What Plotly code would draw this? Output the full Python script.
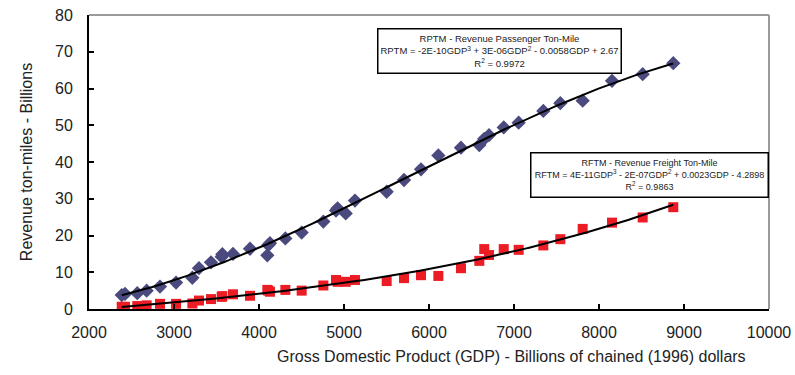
import numpy as np
import plotly.graph_objects as go

gdp = [2385, 2424, 2568, 2678, 2835, 3024, 3216, 3294, 3435, 3561, 3569, 3694, 3894,
       4098, 4110, 4129, 4310, 4502, 4757, 4906, 4925, 5020, 5129, 5502, 5706, 5906,
       6110, 6376, 6592, 6650, 6706, 6879, 7055, 7345, 7545, 7808, 8153, 8514, 8874]
rptm = [3.8, 4.1, 4.3, 5.0, 6.1, 7.2, 8.5, 11.1, 12.7, 14.2, 14.9, 15.0, 16.4,
        14.6, 17.4, 17.9, 19.2, 20.8, 23.8, 26.8, 27.4, 26.0, 29.5, 31.9, 35.1, 38.0,
        41.8, 43.9, 44.6, 46.3, 47.3, 49.4, 50.7, 53.9, 56.0, 56.7, 62.1, 63.9, 66.9]
rftm = [0.6, 0.6, 0.8, 1.0, 1.4, 1.4, 1.5, 2.3, 2.7, 3.3, 3.5, 4.0, 3.6,
        5.2, 5.0, 4.7, 5.2, 5.0, 6.4, 7.9, 7.4, 7.4, 7.9, 7.6, 8.4, 9.2,
        9.0, 11.1, 13.1, 16.3, 14.7, 16.3, 16.1, 17.3, 19.0, 21.8, 23.5, 24.9, 27.7]
x_ticks = [2000, 3000, 4000, 5000, 6000, 7000, 8000, 9000, 10000]
y_ticks = [0, 10, 20, 30, 40, 50, 60, 70, 80]

x_arr = np.array(gdp, dtype=float)
xs = np.linspace(x_arr.min(), x_arr.max(), 200)
p_rptm = np.polyfit(x_arr, rptm, 3)
p_rftm = np.polyfit(x_arr, rftm, 3)

FONT = "Liberation Sans, Arial, sans-serif"

fig = go.Figure()
fig.add_trace(go.Scatter(x=gdp, y=rptm, mode="markers", name="RPTM",
                         marker=dict(symbol="diamond", size=11, color="#4b4a7e")))
fig.add_trace(go.Scatter(x=gdp, y=rftm, mode="markers", name="RFTM",
                         marker=dict(symbol="square", size=10, color="#ec1c24")))
fig.add_trace(go.Scatter(x=xs, y=np.polyval(p_rptm, xs), mode="lines",
                         line=dict(color="black", width=2), showlegend=False))
fig.add_trace(go.Scatter(x=xs, y=np.polyval(p_rftm, xs), mode="lines",
                         line=dict(color="black", width=2), showlegend=False))

axis_font = dict(family=FONT, size=16, color="#222")
fig.update_layout(
    width=795, height=375,
    margin=dict(l=89, r=26, t=15, b=66, autoexpand=False),
    paper_bgcolor="white", plot_bgcolor="white",
    showlegend=False,
    font=dict(family=FONT, color="#222"),
    xaxis=dict(range=[2000, 10000], tickvals=x_ticks, ticktext=[str(v) for v in x_ticks],
               showgrid=False, zeroline=False, showline=True, linecolor="black", linewidth=2,
               ticks="inside", ticklen=5, tickcolor="black", tickwidth=1.5,
               ticklabelstandoff=8, tickfont=axis_font),
    yaxis=dict(range=[0, 80], tickvals=y_ticks, showgrid=False, zeroline=False,
               showline=True, linecolor="black", linewidth=2,
               ticks="inside", ticklen=5, tickcolor="black", tickwidth=1.5,
               ticklabelstandoff=11, tickfont=axis_font,
               title=dict(text="Revenue ton-miles - Billions", standoff=18,
                          font=dict(family=FONT, size=16, color="#222"))),
    shapes=[
        dict(type="line", xref="paper", yref="paper", x0=0, x1=1, y0=1, y1=1,
             line=dict(color="#9a9a9a", width=2)),
        dict(type="line", xref="paper", yref="paper", x0=1, x1=1, y0=0, y1=1,
             line=dict(color="#9a9a9a", width=2)),
    ],
    annotations=[
        dict(text="Gross Domestic Product (GDP) - Billions of chained (1996) dollars",
             xref="paper", yref="paper", x=0.621, y=-0.125, xanchor="center", yanchor="top",
             showarrow=False, font=dict(size=16, color="#222")),
        dict(text="RPTM - Revenue Passenger Ton-Mile<br>"
                  "RPTM = -2E-10GDP<sup>3</sup> + 3E-06GDP<sup>2</sup> - 0.0058GDP + 2.67<br>"
                  "R<sup>2</sup> = 0.9972",
             xref="paper", yref="paper", x=0.6037, y=0.956, xanchor="center", yanchor="top",
             showarrow=False, align="center", font=dict(size=9.5, color="#222"),
             bordercolor="black", borderwidth=1.5, borderpad=2, bgcolor="white",
             width=238, height=39),
        dict(text="RFTM - Revenue Freight Ton-Mile<br>"
                  "RFTM = 4E-11GDP<sup>3</sup> - 2E-07GDP<sup>2</sup> + 0.0023GDP - 4.2898<br>"
                  "R<sup>2</sup> = 0.9863",
             xref="paper", yref="paper", x=0.8245, y=0.534, xanchor="center", yanchor="top",
             showarrow=False, align="center", font=dict(size=9, color="#222"),
             bordercolor="black", borderwidth=1.5, borderpad=2, bgcolor="white",
             width=232, height=39),
    ],
)

fig.write_html("out.html", config={"displayModeBar": False},
               post_script="document.body.style.margin='0';")
